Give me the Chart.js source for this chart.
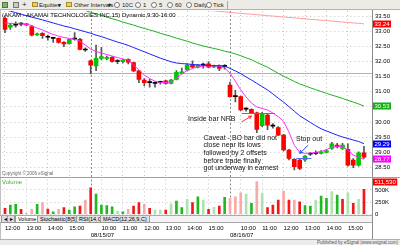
<!DOCTYPE html>
<html>
<head>
<meta charset="utf-8">
<script src="https://cdn.jsdelivr.net/npm/chart.js@4.4.1/dist/chart.umd.min.js"></script>
<style>
body{margin:0;width:400px;height:245px;overflow:hidden;background:#fff;position:relative;font-family:"Liberation Sans Narrow","Liberation Sans",Arial,sans-serif;color:#000}
.a{position:absolute;white-space:nowrap;line-height:1}
#tb{position:absolute;left:0;top:0;width:400px;height:10px;background:#ecebe6;border-bottom:1px solid #b5b2a8;box-sizing:border-box;font-size:6px;color:#222}
#tb .a{top:2px}
.rd{position:absolute;top:2px;width:4px;height:4px;border:1px solid #777;border-radius:50%;background:#fff}
.fd{position:absolute;top:2px;width:6px;height:5px;background:#eccf5a;border:1px solid #a88a28;box-sizing:border-box}
canvas{position:absolute;left:0}
#pc{top:10px}
#vc{top:178px}
.note{position:absolute;white-space:nowrap;font-family:"Liberation Sans",Arial,sans-serif;font-size:7px;line-height:7.7px;color:#111}
#tabs{position:absolute;left:0;top:214.5px;width:372px;height:8px;border-top:1px solid #aaa;border-bottom:1px solid #aaa;background:#f3f3f3;font-size:5.5px;box-sizing:border-box}
.tab{position:absolute;top:0;height:6px;border:1px solid #999;border-top:none;padding:0 2px;line-height:6px;background:#e2e2e2}
#ft{position:absolute;left:0;top:239px;width:400px;height:6px;background:#ececec;border-top:1px solid #b0b0b0;font-size:4.5px;color:#555;box-sizing:border-box}
.vl{position:absolute;width:1px;background:#8a8a8a}
.hl{position:absolute;height:1px;background:#a0a0a0}
</style>
</head>
<body>
<div id="tb">
  <span class="a" style="left:2px;top:1.5px;width:6px;height:6px;background:#7fb26a;border:1px solid #4d7a3b;box-sizing:border-box"></span>
  <span class="a" style="left:13px;top:1.5px;width:6px;height:6px;background:#c9c9c9;border:1px solid #777;box-sizing:border-box"></span>
  <span class="a" style="left:22px;top:1px;font-size:8px">+</span>
  <span class="fd" style="left:32px"></span><span class="a" style="left:39px">Equities</span><span class="a" style="left:58px">▾</span>
  <span class="fd" style="left:66px"></span><span class="a" style="left:74px">Other Intervals</span><span class="a" style="left:108px">▾</span>
  <span class="rd" style="left:114px"></span><span class="a" style="left:122px">10C</span>
  <span class="rd" style="left:135px"></span><span class="a" style="left:143px">1</span>
  <span class="rd" style="left:151px"></span><span class="a" style="left:159px">5</span>
  <span class="rd" style="left:167px"></span><span class="a" style="left:175px">60</span>
  <span class="rd" style="left:186px"></span><span class="a" style="left:194px">Daily</span>
  <span class="rd" style="left:206px"></span><span class="a" style="left:213px">Tick</span>
  <span class="a" style="left:227px;top:1px;width:1px;height:8px;background:#a8a8a8"></span>
</div>

<canvas id="pc" width="400" height="168"></canvas>
<canvas id="vc" width="400" height="62"></canvas>

<div class="vl" style="left:0;top:10px;height:229px;background:#c0c0c0"></div>
<div class="vl" style="left:372px;top:10px;height:229px"></div>
<div class="hl" style="left:0;top:177px;width:400px"></div>

<div class="a" style="left:2px;top:11.5px;font-size:6px">(AKAM - AKAMAI TECHNOLOGIES INC,15) Dynamic,9:30-16:00</div>
<div class="a" style="left:2px;top:171.5px;font-size:4.5px;color:#666;font-family:'Liberation Sans',Arial,sans-serif">Copyright © 2006 eSignal</div>
<div class="a" style="left:2px;top:178.5px;font-size:6px;color:#3cb03c;font-family:'Liberation Sans',Arial,sans-serif">Volume</div>

<div class="note" style="left:188px;top:114.6px">Inside bar NRB</div>
<div class="note" style="left:203.5px;top:133.5px">Caveat - BO bar did not<br>close near its lows<br>followed by 2 offsets<br>before trade finally<br>got underway in earnest</div>
<div class="note" style="left:296px;top:134.5px">Stop out</div>

<div id="tabs">
  <span class="tab" style="left:1px;width:2px;background:#ddd">◂</span>
  <span class="tab" style="left:7px;width:2px;background:#ddd">▸</span>
  <span class="tab" style="left:15px;background:#fff">Volume</span>
  <span class="tab" style="left:37px">Stochastic(8(5),3)</span>
  <span class="tab" style="left:76px">RSI(14,C)</span>
  <span class="tab" style="left:100px">MACD(12,26,9,C)</span>
</div>
<div id="ft"><span class="a" style="right:2px;top:0.5px;font-family:'Liberation Sans',Arial,sans-serif">Published by eSignal (www.esignal.com)</span></div>

<script>
// 15 minute bars, three sessions
const session = ['9:30','9:45','10:00','10:15','10:30','10:45','11:00','11:15','11:30','11:45','12:00','12:15','12:30',
  '12:45','13:00','13:15','13:30','13:45','14:00','14:15','14:30','14:45','15:00','15:15','15:30','15:45'];
const dates = ['08/14/07', '08/15/07', '08/16/07'];
const firstBar = '12:00';

const opens = [33.42,33.13,33.20,33.23,33.22,33.15,32.88,32.93,32.80,32.76, 32.76,32.63,32.59,32.74,32.73,32.38,32.02,31.85,32.10,32.10,
  32.14,32.00,31.99,32.07,31.96,31.69,31.39,31.30,31.28,31.31, 31.36,31.28,31.41,31.61,31.72,31.88,31.81,31.88,31.92,31.82,
  31.86,31.84,31.22,30.84,30.84,30.43,30.42,30.31,29.88,30.23, 29.87,29.82,29.57,29.08,28.77,28.75,28.75,28.94,28.97,28.97,
  29.00,29.13,29.24,29.13,29.10,28.75,28.58,28.99];
const highs = [33.48,33.26,33.31,33.28,33.25,33.18,32.94,32.95,32.87,32.80, 32.78,32.66,32.75,32.95,32.76,32.45,32.05,32.54,32.47,32.18,
  32.16,32.06,32.08,32.09,31.98,31.71,31.44,31.41,31.33,31.35, 31.38,31.41,31.70,31.78,31.92,32.02,31.90,31.95,32.00,31.88,
  31.89,31.90,31.32,31.05,30.86,30.47,30.44,30.33,30.32,30.27, 29.95,29.85,29.60,29.10,28.80,28.78,28.90,29.00,29.05,29.06,
  29.10,29.33,29.30,29.30,29.28,28.80,29.02,29.20];
const lows = [32.95,33.06,33.13,33.17,33.18,32.84,32.86,32.76,32.70,32.63, 32.60,32.49,32.57,32.70,32.38,32.33,31.59,31.70,32.05,32.06,
  31.98,31.93,31.95,31.92,31.66,31.30,31.19,31.15,31.15,31.25, 31.25,31.26,31.39,31.59,31.70,31.79,31.79,31.78,31.79,31.80,
  31.70,31.75,30.82,30.67,30.38,30.36,30.29,29.65,29.85,29.75, 29.80,29.55,29.05,28.75,28.42,28.43,28.70,28.90,28.93,28.95,
  28.98,29.10,29.15,29.10,28.55,28.50,28.55,28.80];
const closes = [33.06,33.20,33.20,33.23,33.21,32.87,32.91,32.85,32.80,32.76, 32.63,32.58,32.73,32.74,32.40,32.38,31.88,32.10,32.16,32.13,
  32.00,32.00,32.05,31.98,31.69,31.41,31.30,31.30,31.28,31.31, 31.28,31.39,31.64,31.66,31.88,31.81,31.88,31.88,31.81,31.86,
  31.77,31.84,30.84,30.84,30.40,30.43,30.31,29.76,30.28,29.90, 29.87,29.57,29.08,28.80,28.53,28.47,28.88,28.94,28.97,29.02,
  29.05,29.28,29.19,29.24,28.58,28.58,28.99,28.84];

// moving averages as drawn (magenta, blue, green, pink)
const maFast = [33.27,33.26,33.25,33.24,33.22,33.19,33.10,33.04,32.96,32.89, 32.84,32.79,32.76,32.74,32.67,32.54,32.41,32.33,32.28,32.23,
  32.18,32.13,32.08,32.05,31.88,31.72,31.55,31.44,31.35,31.31, 31.31,31.32,31.45,31.59,31.70,31.77,31.82,31.85,31.85,31.85,
  31.85,31.78,31.62,31.35,31.06,30.83,30.63,30.50,30.45,30.40, 30.30,30.18,30.03,29.67,29.24,29.01,28.97,28.98,29.00,29.03,
  29.09,29.18,29.19,29.19,29.08,28.91,28.84,28.77];
const maMid = [33.71,33.66,33.61,33.56,33.51,33.46,33.42,33.37,33.32,33.27, 33.22,33.17,33.13,33.08,33.03,32.98,32.93,32.87,32.82,32.76,
  32.70,32.64,32.59,32.53,32.46,32.39,32.32,32.25,32.18,32.11, 32.05,31.99,31.95,31.93,31.92,31.90,31.89,31.88,31.87,31.86,
  31.86,31.85,31.77,31.69,31.60,31.49,31.39,31.28,31.17,31.06, 30.93,30.79,30.66,30.51,30.36,30.21,30.10,29.99,29.88,29.78,
  29.71,29.64,29.57,29.51,29.46,29.41,29.36,29.29];
const maSlow = [null,null,null,null,null,null,null,null,null,null, null,null,null,null,33.73,33.68,33.62,33.57,33.52,33.46,
  33.41,33.36,33.30,33.25,33.20,33.14,33.09,33.04,32.99,32.93, 32.88,32.83,32.77,32.72,32.67,32.61,32.56,32.51,32.47,32.43,
  32.39,32.34,32.30,32.25,32.19,32.12,32.06,31.97,31.89,31.81, 31.71,31.61,31.51,31.43,31.34,31.26,31.20,31.13,31.07,31.01,
  30.95,30.89,30.84,30.78,30.72,30.66,30.60,30.53];
const maLong = [null,null,null,null,null,null,null,null,null,null, null,null,null,null,null,null,null,null,null,null,
  null,null,null,null,null,null,null,null,null,null, null,null,null,null,null,null,33.71,33.70,33.68,33.67,
  33.65,33.64,33.62,33.60,33.59,33.57,33.56,33.54,33.53,33.51, 33.50,33.48,33.47,33.45,33.44,33.42,33.41,33.39,33.38,33.36,
  33.35,33.33,33.32,33.30,33.29,33.27,33.26,33.24];

// volume in thousands, and the shade eSignal used for each bar
const volumes = [123,191,206,103,21,103,206,239,109,53, 103,136,88,156,171,294,547,418,191,177,
  156,68,53,103,171,239,206,123,88,88, 88,212,274,136,309,239,362,294,103,144,
  171,350,329,362,444,418,226,671,432,136, 191,294,479,294,294,259,177,171,294,377,
  329,465,397,309,444,226,309,511.53];
const volShade = ['r','g','g','r','p','p','g','p','r','g', 'p','r','g','g','r','p','r','g','g','g',
  'g','l','g','p','r','r','p','r','l','l', 'r','l','g','g','l','r','g','l','r','l',
  'r','g','p','p','p','l','g','p','l','r', 'r','r','p','r','p','r','g','g','l','g',
  'g','l','g','r','l','r','l','r'];

const priceTicks = [28.5,29,29.5,30,30.5,31,31.5,32,32.5,33,33.5];
const volTicks = [0,250,500];

// drawn objects
const levelLine = 31.61;
const nrbLines = [[44.2, 50.4, 30.31], [54.4, 57.2, 28.82]];
const arrows = [[[44.2, 30.01], [46.0, 30.20]], [[56.6, 29.24], [55.0, 28.97]]];

const categories = [];
dates.forEach((d, k) => {
  const times = k === 0 ? session.slice(session.indexOf(firstBar)) : session;
  times.forEach(t => categories.push(d + ' ' + t));
});
const slots = categories.concat(['']); // empty slot on the right edge

const fontNarrow = '"Liberation Sans Narrow","Liberation Sans",Arial,sans-serif';
const gridCol = '#c4c4c4';
const hourGrid = ctx => (slots[ctx.index] || '').endsWith(':00') ? gridCol : 'rgba(0,0,0,0)';
const bodyColor = ctx => {
  let i = ctx.dataIndex;
  return closes[i] > opens[i] ? '#00c800' : closes[i] < opens[i] ? '#ff0000' : '#000000';
};
const shadeColor = {r: '#f01818', g: '#22b822', p: '#f6aaaa', l: '#aee2ae'};
// keep chart.js from reserving room for half tick labels
const noPad = s => { s.paddingTop = 0; s.paddingBottom = 0; s.paddingLeft = 0; s.paddingRight = 0; };

function dayLines(chart) {
  const {ctx, chartArea: a, scales: {x}} = chart;
  ctx.save();
  ctx.strokeStyle = '#8c8c8c'; ctx.lineWidth = 1; ctx.setLineDash([2, 2]);
  categories.forEach((c, i) => {
    if (i > 0 && c.endsWith(' ' + session[0])) {
      const px = Math.round(x.getPixelForValue(i)) + 0.5;
      ctx.beginPath(); ctx.moveTo(px, a.top); ctx.lineTo(px, a.bottom); ctx.stroke();
    }
  });
  ctx.restore();
}

function arrow(ctx, x0, y0, x1, y1) {
  let ang = Math.atan2(y1 - y0, x1 - x0), h = 3.5;
  ctx.beginPath(); ctx.moveTo(x0, y0); ctx.lineTo(x1, y1);
  ctx.moveTo(x1 - h * Math.cos(ang - 0.5), y1 - h * Math.sin(ang - 0.5));
  ctx.lineTo(x1, y1);
  ctx.lineTo(x1 - h * Math.cos(ang + 0.5), y1 - h * Math.sin(ang + 0.5));
  ctx.stroke();
}

function valueBox(ctx, left, py, txt, bg) {
  ctx.font = '6px ' + fontNarrow;
  const w = ctx.measureText(txt).width + 3;
  ctx.fillStyle = bg; ctx.fillRect(left, Math.round(py) - 3.5, w, 7);
  ctx.fillStyle = '#fff'; ctx.textBaseline = 'middle'; ctx.textAlign = 'left';
  ctx.fillText(txt, left + 1.5, Math.round(py) + 0.5);
}

const priceDecor = {
  id: 'priceDecor',
  beforeDatasetsDraw(chart) {
    dayLines(chart);
    const {ctx, chartArea: a, scales: {y}} = chart;
    ctx.save();
    ctx.strokeStyle = '#aaaaf0'; ctx.lineWidth = 1;
    const ly = Math.round(y.getPixelForValue(levelLine)) + 0.5;
    ctx.beginPath(); ctx.moveTo(a.left, ly); ctx.lineTo(a.right, ly); ctx.stroke();
    ctx.restore();
  },
  afterDatasetsDraw(chart) {
    const {ctx, scales: {x, y}} = chart;
    ctx.save();
    ctx.strokeStyle = '#5a66ff'; ctx.lineWidth = 1;
    nrbLines.forEach(([i0, i1, p]) => {
      const py = Math.round(y.getPixelForValue(p)) + 0.5;
      ctx.beginPath(); ctx.moveTo(x.getPixelForValue(i0), py); ctx.lineTo(x.getPixelForValue(i1), py); ctx.stroke();
    });
    ['#ff3030', '#3344ff'].forEach((col, k) => {
      const [[i0, p0], [i1, p1]] = arrows[k];
      ctx.strokeStyle = col;
      arrow(ctx, x.getPixelForValue(i0), y.getPixelForValue(p0), x.getPixelForValue(i1), y.getPixelForValue(p1));
    });
    ctx.restore();
  },
  afterDraw(chart) {
    const {ctx, chartArea: a, scales: {y}} = chart;
    ctx.save();
    chart.data.datasets.forEach(ds => {
      if (!ds.boxColor) return;
      const v = ds.data[ds.data.length - 1];
      valueBox(ctx, a.right + 1, y.getPixelForValue(v), v.toFixed(2), ds.boxColor);
    });
    ctx.restore();
  }
};

const volDecor = {
  id: 'volDecor',
  beforeDatasetsDraw: dayLines,
  afterDraw(chart) {
    const {ctx, chartArea: a} = chart;
    const v = volumes[volumes.length - 1];
    ctx.save();
    valueBox(ctx, a.right + 1, a.top + 2.5, Math.round(v * 1000).toLocaleString('en-US'), '#ff0000');
    ctx.restore();
  }
};

const line = (data, color, box) => ({
  type: 'line', data: data, borderColor: color, borderWidth: 1, pointRadius: 0,
  tension: 0, order: 1, boxColor: box
});

new Chart(document.getElementById('pc'), {
  type: 'bar',
  data: {
    labels: slots,
    datasets: [
      {data: lows.map((l, i) => [l, highs[i]]), backgroundColor: '#555', barThickness: 1, grouped: false, order: 4},
      {data: opens.map((o, i) => [o, closes[i]]), backgroundColor: bodyColor, barThickness: 4, minBarLength: 1, grouped: false, order: 3},
      line(maLong, '#ff9d9d', '#ff0000'),
      line(maSlow, '#22b022', '#10b010'),
      line(maMid, '#1a22ff', '#0000ff'),
      line(maFast, '#ff30ff', '#ff00ff')
    ]
  },
  options: {
    responsive: false, animation: false, events: [],
    layout: {padding: {left: 2.3, top: 1, right: 0, bottom: 0.7}},
    plugins: {legend: {display: false}, tooltip: {enabled: false}},
    scales: {
      x: {
        offset: true,
        grid: {offset: false, color: hourGrid, drawTicks: false},
        border: {display: false, dash: [1, 3]},
        ticks: {display: false, autoSkip: false},
        afterFit: s => { s.height = 0; noPad(s); }
      },
      y: {
        position: 'right', min: 28.18, max: 33.665,
        afterBuildTicks: s => { s.ticks = priceTicks.map(v => ({value: v})); },
        grid: {color: gridCol, drawTicks: false},
        border: {display: false, dash: [1, 3]},
        ticks: {color: '#000', padding: 3, font: {family: fontNarrow, size: 6}, callback: v => v.toFixed(2)},
        afterFit: s => { s.width = 28; noPad(s); }
      }
    }
  },
  plugins: [priceDecor]
});

new Chart(document.getElementById('vc'), {
  type: 'bar',
  data: {
    labels: slots,
    datasets: [{data: volumes, backgroundColor: ctx => shadeColor[volShade[ctx.dataIndex]], barThickness: 2}]
  },
  options: {
    responsive: false, animation: false, events: [],
    layout: {padding: {left: 2.3, top: 1.5, right: 0, bottom: 0}},
    plugins: {legend: {display: false}, tooltip: {enabled: false}},
    scales: {
      x: {
        offset: true,
        grid: {offset: false, color: hourGrid, drawTicks: false},
        border: {display: false, dash: [1, 3]},
        ticks: {
          autoSkip: false, maxRotation: 0, minRotation: 0, align: 'start', padding: 10,
          color: '#000', font: {family: fontNarrow, size: 6},
          callback: (v, i) => {
            const c = categories[i];
            if (!c) return '';
            const [d, t] = c.split(' ');
            if (t.endsWith(':00')) return t;
            if (t === session[0] && i > 0) return ['', d];
            return '';
          }
        },
        afterFit: s => { s.height = 25.7; noPad(s); }
      },
      y: {
        position: 'right', min: 0, max: 716,
        afterBuildTicks: s => { s.ticks = volTicks.map(v => ({value: v})); },
        grid: {color: gridCol, drawTicks: false},
        border: {display: false, dash: [1, 3]},
        ticks: {color: '#000', padding: 3, font: {family: fontNarrow, size: 6}, callback: v => v ? v + 'K' : '0'},
        afterFit: s => { s.width = 28; noPad(s); }
      }
    }
  },
  plugins: [volDecor]
});
</script>
</body>
</html>
